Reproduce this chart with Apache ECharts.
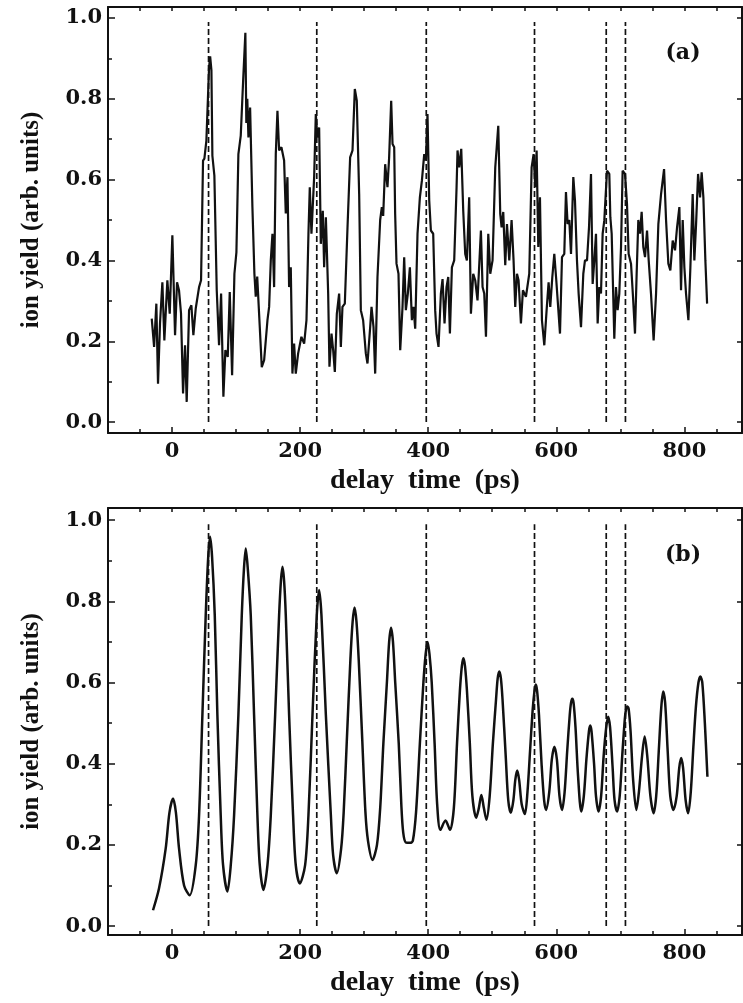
<!DOCTYPE html>
<html>
<head>
<meta charset="utf-8">
<script src="https://cdn.jsdelivr.net/npm/echarts@6/dist/echarts.min.js"></script>
<style>
  html, body { margin: 0; padding: 0; background: #fff; overflow: hidden; }
  #chart { width: 743px; height: 1003px; }
</style>
</head>
<body>
<div id="chart"></div>
<script>
// (a) measured ion yield, [delay ps, yield]
const measured = [
  [-31.7,0.256],[-28,0.186],[-24.5,0.293],[-21.9,0.095],[-18.8,0.244],[-15.1,0.346],[-12,0.202],[-7.3,0.351],
  [-3.6,0.268],[0.5,0.462],[4.7,0.215],[7.8,0.346],[10.9,0.326],[14,0.269],[17.2,0.071],[20.3,0.19],[22.9,0.05],
  [26.6,0.277],[30.2,0.289],[33.3,0.215],[37,0.281],[42.2,0.334],[45.3,0.351],[48.4,0.647],[50.5,0.652],[53.6,0.696],
  [57.8,0.877],[59.5,0.905],[61.5,0.87],[63,0.659],[66.1,0.61],[69.8,0.326],[73.4,0.19],[76.6,0.318],[80.2,0.063],
  [83.3,0.178],[87,0.161],[90.1,0.322],[93.8,0.116],[97.4,0.367],[100.5,0.42],[103.6,0.663],[107.3,0.709],[111,0.844],
  [114.5,0.963],[116,0.74],[117.5,0.8],[119.3,0.704],[121.9,0.778],[125.5,0.532],[128.6,0.367],[130.7,0.31],[133,0.36],
  [137,0.235],[140.1,0.136],[143.8,0.153],[149,0.252],[151.6,0.285],[154.2,0.4],[156.8,0.466],[159.4,0.334],[162,0.663],
  [164.6,0.77],[167.2,0.672],[170.8,0.68],[175,0.647],[177.6,0.516],[180.2,0.606],[182.8,0.334],[185.4,0.383],[188,0.12],
  [190.6,0.194],[193.2,0.12],[196.9,0.17],[202,0.211],[206.3,0.194],[209.9,0.252],[213,0.466],[215.1,0.581],[217.7,0.466],
  [221.9,0.606],[224.5,0.762],[227,0.704],[229.7,0.729],[232.3,0.441],[235.4,0.523],[237.5,0.383],[240.2,0.507],[243.8,0.318],
  [245.8,0.137],[249,0.219],[251.6,0.178],[254.2,0.124],[257.3,0.268],[260.9,0.318],[263.6,0.186],[266.1,0.285],[269.8,0.293],
  [274,0.482],[278.1,0.655],[281.8,0.672],[285.4,0.824],[288.5,0.795],[292.2,0.564],[294.8,0.277],[298.4,0.252],[302.6,0.17],
  [305.2,0.145],[309.4,0.235],[311.5,0.285],[314.6,0.235],[317.2,0.12],[320.8,0.359],[325,0.5],[327.6,0.532],[329.7,0.51],
  [332.8,0.638],[336.4,0.581],[339,0.655],[342.2,0.795],[344.3,0.688],[346.9,0.68],[348.4,0.515],[350.5,0.392],[353.6,0.367],
  [356.3,0.178],[359.9,0.285],[362.5,0.408],[365.1,0.277],[368.2,0.318],[371.4,0.383],[374.5,0.252],[377,0.285],[379.7,0.231],
  [383.3,0.466],[387,0.556],[390.2,0.598],[393.8,0.663],[396.4,0.647],[398.9,0.762],[401.6,0.548],[404.2,0.474],[407.8,0.466],
  [410.9,0.277],[413,0.219],[416.1,0.186],[419.8,0.318],[422.4,0.354],[425.5,0.244],[428.6,0.334],[431.3,0.359],[433.9,0.219],
  [437,0.383],[440.6,0.4],[444.3,0.581],[445.8,0.672],[448.4,0.63],[451.6,0.676],[454.7,0.523],[457.8,0.416],[460.4,0.4],
  [464,0.556],[466.7,0.268],[470.3,0.367],[473.4,0.351],[477,0.301],[479.7,0.301],[482.3,0.474],[484.9,0.334],[487.5,0.318],
  [490.2,0.211],[493.8,0.466],[496.9,0.367],[500.5,0.4],[504.7,0.63],[509.4,0.733],[512.5,0.515],[514.6,0.482],[517.2,0.52],
  [520.3,0.388],[523,0.49],[526.6,0.4],[530.2,0.5],[533.3,0.4],[535.9,0.285],[538.6,0.367],[541.1,0.351],[544.8,0.244],
  [547.9,0.326],[552.6,0.31],[557.8,0.367],[561.5,0.63],[564.6,0.663],[567.2,0.581],[569.3,0.672],[571.9,0.433],[574.5,0.556],
  [577.6,0.252],[581.3,0.19],[584.9,0.277],[588,0.346],[590.6,0.285],[593.8,0.359],[596.9,0.416],[600,0.351],[603.1,0.351],
  [605.8,0.219],[608.9,0.408],[612.5,0.416],[615.1,0.569],[617.7,0.49],[620.3,0.5],[623,0.416],[626.6,0.606],[629.2,0.548],
  [632.3,0.4],[634.9,0.318],[638.6,0.235],[642.2,0.367],[644.8,0.4],[648,0.4],[651.1,0.482],[654.2,0.614],[656.8,0.342],
  [659.4,0.4],[662,0.466],[664.6,0.244],[667.2,0.334],[669.8,0.318],[672.4,0.466],[675,0.499],[679.2,0.622],[682.8,0.614],
  [684.4,0.507],[686.5,0.466],[690.6,0.206],[693.2,0.334],[695.8,0.277],[698.4,0.318],[701.1,0.433],[703.6,0.622],[707.3,0.614],
  [710.4,0.54],[713,0.416],[716.7,0.392],[719.8,0.31],[722.9,0.219],[725.5,0.367],[728.1,0.5],[730.7,0.466],[733.3,0.52],
  [735.9,0.433],[738.6,0.408],[741.7,0.474],[744.3,0.4],[747.9,0.318],[752,0.202],[755.8,0.318],[759.4,0.49],[763.6,0.564],
  [768.3,0.626],[771.4,0.5],[775,0.392],[778.1,0.375],[781.8,0.449],[785.4,0.425],[788.6,0.482],[792.2,0.532],[794.8,0.326],
  [797.4,0.5],[800,0.383],[802.6,0.318],[806.3,0.252],[809.4,0.383],[813,0.564],[815.6,0.4],[818.3,0.49],[821.4,0.614],
  [824.5,0.556],[827,0.618],[829.7,0.556],[832.8,0.4],[835.5,0.293]
];

// (b) calculated ion yield
const calculated = [
  [-29.7,0.039],[-20.3,0.093],[-10,0.19],[-4,0.28],[1.6,0.314],[6,0.28],[11,0.19],[18.8,0.1],[27.6,0.076],
  [37,0.15],[42.2,0.273],[47.4,0.52],[52.6,0.766],[56.5,0.91],[59.4,0.959],[62.5,0.91],[66.7,0.766],[70.8,0.52],
  [76,0.273],[79.7,0.15],[86.5,0.085],
  [91.7,0.15],[96.9,0.273],[103.6,0.52],[108.9,0.766],[112.3,0.88],[115.1,0.93],[118.3,0.88],[122.9,0.766],
  [128.1,0.52],[133.3,0.273],[137,0.15],[142.7,0.089],
  [149,0.15],[154.2,0.273],[161,0.52],[167.2,0.766],[170,0.85],[172.4,0.885],[175,0.85],[177.6,0.766],[182.8,0.52],
  [189,0.273],[193.2,0.15],[199.5,0.105],
  [207.8,0.15],[213,0.273],[219.3,0.52],[226,0.766],[229.7,0.828],[233.3,0.766],[240.2,0.52],[248,0.273],
  [251.6,0.174],[257.3,0.13],
  [264,0.19],[268,0.28],[273,0.46],[278.5,0.656],[282,0.75],[285,0.785],[288,0.75],[291.5,0.656],[297,0.46],
  [302,0.28],[306,0.21],[313,0.163],
  [320,0.2],[325,0.29],[330,0.45],[335.5,0.6],[339,0.7],[342,0.735],[345,0.7],[348.5,0.6],[354,0.45],[358,0.3],
  [361,0.23],[365,0.206],[372,0.205],[376,0.21],
  [381,0.28],[387,0.45],[392.5,0.6],[396,0.67],[399,0.7],[402,0.67],[405.5,0.6],[410,0.45],[414,0.3],[419,0.237],
  [427,0.26],[434,0.237],
  [440,0.29],[445,0.45],[449.5,0.58],[452.5,0.64],[455,0.66],[457.5,0.64],[460.5,0.58],[465,0.45],[469,0.32],
  [475,0.267],[479,0.29],[483,0.323],[487,0.29],[491,0.262],
  [496,0.32],[501,0.45],[506,0.56],[508.5,0.61],[511,0.627],[513.5,0.61],[516,0.56],[521,0.42],[525,0.31],[529,0.279],
  [533,0.31],[536,0.36],[539,0.383],[542,0.36],[546,0.3],[551,0.276],
  [555,0.33],[559,0.43],[563,0.53],[566,0.58],[568,0.595],[570,0.58],[573,0.52],[577,0.4],[581,0.31],[584,0.286],
  [589,0.33],[593,0.41],[597,0.442],[601,0.41],[605,0.32],[609,0.286],
  [613,0.33],[617,0.43],[621,0.52],[623,0.55],[625,0.56],[627,0.55],[630,0.49],[634,0.37],[639,0.282],
  [643,0.32],[647,0.41],[651,0.48],[653,0.494],[655,0.48],[659,0.4],[662,0.32],[666,0.282],
  [670,0.32],[674,0.42],[678,0.49],[681,0.516],[684,0.49],[688,0.39],[691,0.31],[695,0.282],
  [699,0.32],[703,0.42],[707,0.51],[709,0.535],[711,0.541],[713,0.535],[716,0.48],[720,0.36],[725,0.286],
  [729,0.33],[734,0.42],[738,0.467],[742,0.42],[747,0.32],[752,0.278],
  [756,0.32],[760,0.43],[764,0.54],[767,0.578],[770,0.55],[774,0.43],[778,0.32],[783,0.286],
  [788,0.32],[792,0.39],[795,0.414],[798,0.39],[802,0.31],[806,0.278],
  [810,0.33],[814,0.44],[818,0.54],[822,0.6],[825,0.615],[828,0.6],[832,0.5],[836,0.368]
];

// vertical dashed markers (ps)
const dashPos = [57, 226, 397, 566, 678, 708];
const dashTop = 0.99;
const panelLabels = ['(a)', '(b)'];

const black = '#111';
const tickFont = { fontFamily: 'DejaVu Serif', fontWeight: 'bold', fontSize: 21, color: black };
const axisLine = { show: true, onZero: false, lineStyle: { color: black, width: 2 } };
const tickLine = { color: black, width: 1.5 };

function xAxes(grid) {
  return [{
    gridIndex: grid, type: 'value', min: -100, max: 890, splitNumber: 5,
    axisLine: axisLine,
    axisTick: { show: true, inside: true, length: 6, lineStyle: tickLine },
    minorTick: { show: true, splitNumber: 4, length: 4, lineStyle: tickLine },
    axisLabel: Object.assign({ margin: 8, showMinLabel: false, showMaxLabel: false }, tickFont),
    splitLine: { show: false },
    name: 'delay  time  (ps)', nameLocation: 'middle', nameGap: 34,
    nameTextStyle: { fontFamily: 'Liberation Serif', fontWeight: 'bold', fontSize: 28, color: black }
  }, {
    gridIndex: grid, type: 'value', position: 'top', min: -100, max: 890, splitNumber: 5,
    axisLine: axisLine,
    axisTick: { show: true, inside: true, length: 4, lineStyle: tickLine },
    minorTick: { show: true, splitNumber: 4, length: 4, lineStyle: tickLine },
    axisLabel: { show: false }, splitLine: { show: false }
  }];
}

function yAxes(grid, min, max) {
  return [{
    gridIndex: grid, type: 'value', min: min, max: max, splitNumber: 5,
    axisLine: axisLine,
    axisTick: { show: true, inside: true, length: 7, lineStyle: tickLine },
    minorTick: { show: true, splitNumber: 2, length: 4, lineStyle: tickLine },
    axisLabel: Object.assign({
      margin: 6, showMinLabel: false, showMaxLabel: false,
      formatter: v => v.toFixed(1)
    }, tickFont),
    splitLine: { show: false },
    name: 'ion yield (arb. units)', nameLocation: 'middle', nameRotate: 90, nameGap: 64,
    nameTextStyle: { fontFamily: 'Liberation Serif', fontWeight: 'bold', fontSize: 25, color: black }
  }, {
    gridIndex: grid, type: 'value', position: 'right', min: min, max: max, splitNumber: 5,
    axisLine: axisLine,
    axisTick: { show: true, inside: true, length: 5, lineStyle: tickLine },
    minorTick: { show: false },
    axisLabel: { show: false }, splitLine: { show: false }
  }];
}

function dashSeries(axisIdx) {
  return dashPos.map(p => ({
    type: 'line', xAxisIndex: axisIdx, yAxisIndex: axisIdx,
    data: [[p, 0], [p, dashTop]],
    showSymbol: false, silent: true,
    lineStyle: { color: black, width: 1.7, type: [6, 3] }
  }));
}

const chart = echarts.init(document.getElementById('chart'));
chart.setOption({
  animation: false,
  backgroundColor: '#fff',
  grid: [
    { left: 108, top: 7, right: 1, height: 426 },
    { left: 108, top: 508, right: 1, height: 427 }
  ],
  xAxis: xAxes(0).concat(xAxes(1)),
  yAxis: yAxes(0, -0.027, 1.027).concat(yAxes(1, -0.022, 1.03)),
  graphic: panelLabels.map((t, i) => ({
    type: 'text', x: 683, y: i === 0 ? 53 : 555,
    style: { text: t, align: 'center', verticalAlign: 'middle', fill: black,
      font: 'bold 22px "DejaVu Serif"' }
  })),
  series: [
    {
      type: 'line', xAxisIndex: 0, yAxisIndex: 0, data: measured,
      showSymbol: false, lineStyle: { color: black, width: 2.2 }
    },
    {
      type: 'line', xAxisIndex: 2, yAxisIndex: 2, data: calculated,
      showSymbol: false, smooth: 0.3, lineStyle: { color: black, width: 2.5 }
    }
  ].concat(dashSeries(0)).concat(dashSeries(2))
});
</script>
</body>
</html>
